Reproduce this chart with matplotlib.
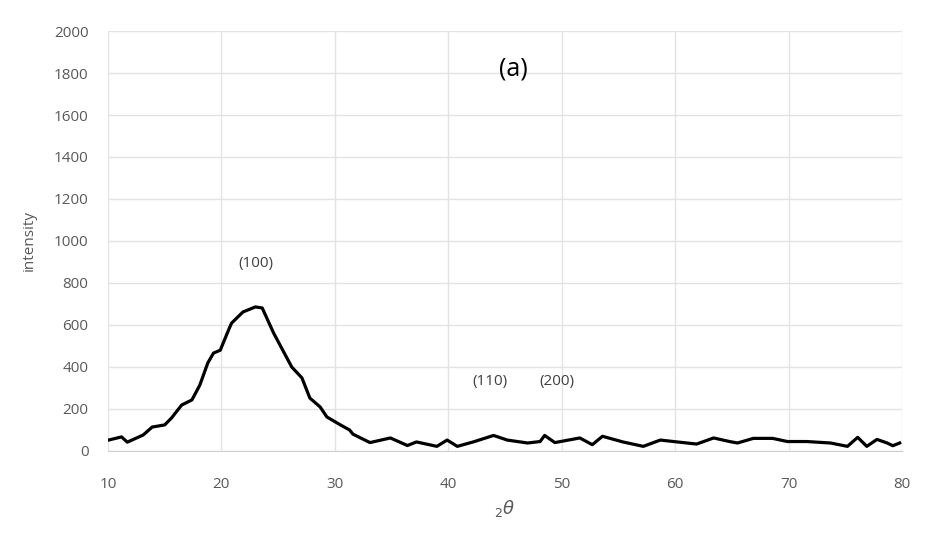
import numpy as np
import matplotlib.pyplot as plt

# XRD pattern
two_theta = [9.9, 11.2, 11.7, 13.1, 13.9, 15.0, 15.6, 16.5, 17.4, 18.1, 18.8, 19.3,
             19.9, 20.7, 20.9, 21.9, 23.0, 23.6, 24.6, 25.4, 26.2, 27.1, 27.8, 28.7,
             29.3, 30.5, 31.3, 31.6, 33.1, 34.9, 36.4, 37.2, 39.0, 39.9, 40.8, 42.2,
             44.0, 45.2, 47.0, 48.1, 48.5, 49.4, 51.6, 52.7, 53.6, 55.4, 57.2, 58.7,
             60.2, 61.9, 63.4, 64.8, 65.5, 66.9, 68.6, 69.9, 71.6, 73.7, 75.2, 76.1,
             76.9, 77.8, 78.7, 79.2, 79.8]
intensity = [50, 67, 42, 76, 114, 124, 157, 219, 243, 314, 419, 466,
             480, 585, 609, 662, 686, 681, 562, 481, 400, 348, 252, 210,
             162, 124, 100, 80, 40, 62, 26, 43, 22, 52, 22, 43,
             74, 52, 38, 45, 74, 40, 62, 30, 70, 43, 22, 52,
             43, 33, 62, 45, 38, 60, 60, 45, 45, 38, 22, 65,
             22, 55, 38, 25, 38]

peak_labels = ['(100)', '(110)', '(200)']
peak_x = [23.0, 43.7, 49.6]
peak_y = [895, 333, 333]

grey = '#595959'
plt.rcParams['font.family'] = ['Open Sans', 'DejaVu Sans']

fig = plt.figure(figsize=(9.26, 5.44), dpi=100)
ax = fig.add_axes([0.1166, 0.171, 0.8574, 0.772])

ax.plot(two_theta, intensity, color='black', lw=2.3, zorder=3)

ax.set_xlim(10, 80)
ax.set_ylim(0, 2000)
ax.set_xticks(np.arange(10, 81, 10))
ax.set_yticks(np.arange(0, 2001, 200))
ax.grid(True, color='#e3e3e3', lw=1)
ax.set_axisbelow(True)
for s in ['top', 'right', 'left']:
    ax.spines[s].set_visible(False)
ax.spines['bottom'].set_color('#d0d0d0')
ax.tick_params(length=0, colors=grey, labelsize=11)
ax.tick_params(axis='x', pad=19)
ax.tick_params(axis='y', pad=14)

ax.set_ylabel('intensity', color=grey, fontsize=11, labelpad=12)
ax.set_xlabel(r'$_2\theta$', color=grey, fontsize=13, labelpad=4)

ax.text(45.7, 1820, '(a)', fontsize=18, color='black', ha='center', va='center')
for lab, px, py in zip(peak_labels, peak_x, peak_y):
    ax.text(px, py, lab, fontsize=11, color='#404040', ha='center', va='center')

fig.savefig('out.png', dpi=100)
